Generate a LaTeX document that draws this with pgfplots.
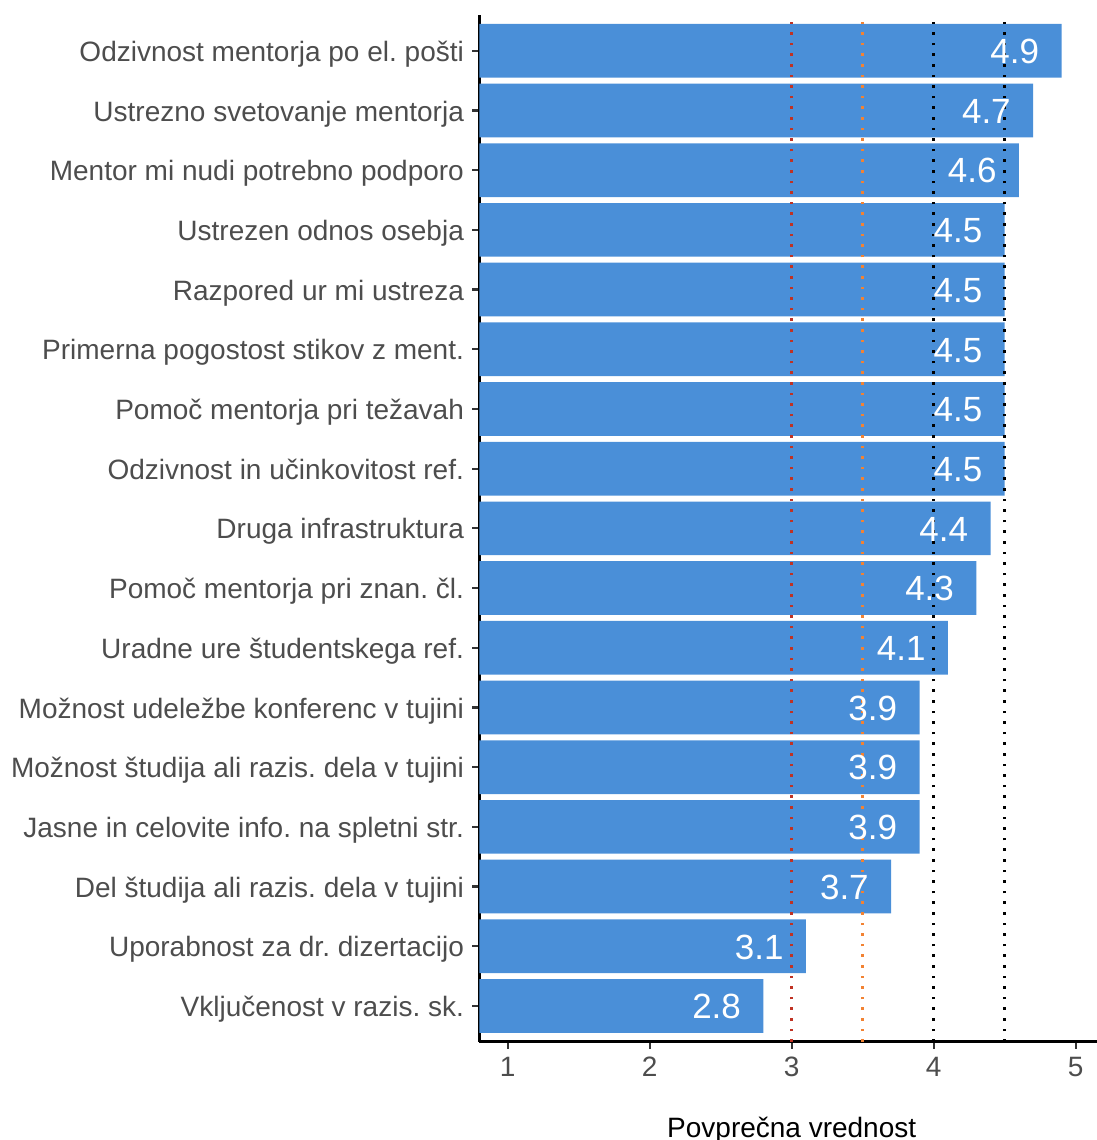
\documentclass[border=0pt]{standalone}
\usepackage{fontspec}
\setmainfont{Liberation Sans}
\usepackage{pgfplots}
\pgfplotsset{compat=1.18}
\frenchspacing
\definecolor{barblue}{RGB}{74,143,216}
\definecolor{vred}{RGB}{192,50,35}
\definecolor{vorange}{RGB}{242,130,50}
\definecolor{txtgrey}{RGB}{77,77,77}
\definecolor{tickgrey}{RGB}{51,51,51}
\begin{document}
\frenchspacing
\begin{tikzpicture}
\begin{axis}[
  scale only axis,
  width=312.4pt, height=513.4pt,
  xmin=0.8, xmax=5.2, ymin=0.4, ymax=17.6,
  axis lines=left,
  axis line style={-, line width=1.6pt, black},
  /pgf/number format/assume math mode=true,
  xtick={1,2,3,4,5},
  ytick={1,...,17},
  yticklabels={
    Vključenost v razis. sk.,
    Uporabnost za dr. dizertacijo,
    Del študija ali razis. dela v tujini,
    Jasne in celovite info. na spletni str.,
    Možnost študija ali razis. dela v tujini,
    Možnost udeležbe konferenc v tujini,
    Uradne ure študentskega ref.,
    Pomoč mentorja pri znan. čl.,
    Druga infrastruktura,
    Odzivnost in učinkovitost ref.,
    Pomoč mentorja pri težavah,
    Primerna pogostost stikov z ment.,
    Razpored ur mi ustreza,
    Ustrezen odnos osebja,
    Mentor mi nudi potrebno podporo,
    Ustrezno svetovanje mentorja,
    Odzivnost mentorja po el. pošti},
  tick align=outside,
  major tick length=3.5pt,
  tick style={tickgrey, line width=1.1pt},
  ticklabel style={font=\fontsize{14}{16}\selectfont\frenchspacing, text=txtgrey},
  yticklabel style={inner sep=0pt, anchor=base east, xshift=-4pt, yshift=-5.3pt},
  xticklabel style={inner sep=0pt, yshift=-4pt},
  xlabel={Povprečna vrednost},
  xlabel style={at={(axis description cs:0.5,-0.09273)}, anchor=base, font=\fontsize{14}{16}\selectfont, text=black, inner sep=0pt},
]
\addplot[xbar, bar width=0.9, fill=barblue, draw=none,
  point meta=x,
  nodes near coords={\pgfmathprintnumber[fixed, precision=1, fixed zerofill]{\pgfplotspointmeta}},
  nodes near coords align={anchor=base east},
  nodes near coords style={anchor=base east, text=white, font=\fontsize{17.5}{20}\selectfont, inner sep=0pt, xshift=-11pt, yshift=-6.4pt},
] coordinates {
  (2.8,1) (3.1,2) (3.7,3) (3.9,4) (3.9,5) (3.9,6) (4.1,7) (4.3,8) (4.4,9)
  (4.5,10) (4.5,11) (4.5,12) (4.5,13) (4.5,14) (4.6,15) (4.7,16) (4.9,17)
};
\addplot[vred, line width=1.5pt, dash pattern=on 1.3pt off 4pt, mark=none] coordinates {(3,0.4) (3,17.6)};
\addplot[vorange, line width=1.5pt, dash pattern=on 1.3pt off 4pt, mark=none] coordinates {(3.5,0.4) (3.5,17.6)};
\addplot[black, line width=1.5pt, dash pattern=on 1.3pt off 4pt, mark=none] coordinates {(4,0.4) (4,17.6)};
\addplot[black, line width=1.5pt, dash pattern=on 1.3pt off 4pt, mark=none] coordinates {(4.5,0.4) (4.5,17.6)};
\coordinate (BL) at (axis cs:-2.5754,-1.245);
\coordinate (TR) at (axis cs:5.143,17.851);
\end{axis}
\pgfresetboundingbox
\useasboundingbox (BL) rectangle (TR);
\end{tikzpicture}
\end{document}
